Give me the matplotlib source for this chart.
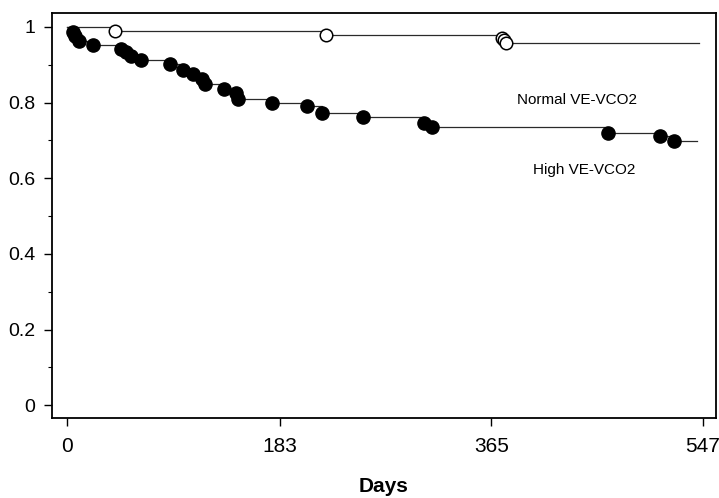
import matplotlib
matplotlib.use("Agg")
import matplotlib.pyplot as plt
from matplotlib.ticker import MultipleLocator

# ---- data ----
normal_days = [41, 223, 374, 376, 378]
normal_surv = [0.989, 0.980, 0.972, 0.965, 0.958]
normal_end = 544

high_days = [5.4, 6.9, 10.0, 22.6, 46.4, 50.7, 55.0, 63.6, 88.6, 99.8, 108.0,
             115.7, 118.7, 135.0, 145.3, 147.5, 176.7, 206.4, 219.3, 254.5,
             307.0, 314.3, 465.2, 509.9, 521.9]
high_surv = [0.988, 0.976, 0.963, 0.952, 0.942, 0.933, 0.923, 0.913, 0.903,
             0.886, 0.876, 0.862, 0.850, 0.836, 0.825, 0.809, 0.800, 0.790,
             0.773, 0.761, 0.747, 0.736, 0.720, 0.712, 0.699]
high_end = 542

x_ticks = [0, 183, 365, 547]
y_ticks = [0, 0.2, 0.4, 0.6, 0.8, 1.0]
y_tick_labels = ["0", "0.2", "0.4", "0.6", "0.8", "1"]
label_normal = "Normal VE-VCO2"
label_high = "High VE-VCO2"
x_label = "Days"

fig = plt.figure(figsize=(7.19, 4.98), dpi=100)
ax = fig.add_axes([52/719, 1-418/498, (716-52)/719, (418-13)/498])

line_col = "#2a2a2a"
# Normal curve
nx = [0] + normal_days + [normal_end]
ny = [1.0] + normal_surv + [normal_surv[-1]]
ax.step(nx, ny, where="post", color=line_col, lw=0.9)
ax.plot(normal_days, normal_surv, "o", mfc="white", mec="black", mew=1.1, ms=9)

# High curve
hx = [0] + high_days + [high_end]
hy = [1.0] + high_surv + [high_surv[-1]]
ax.step(hx, hy, where="post", color=line_col, lw=0.9)
ax.plot(high_days, high_surv, "o", color="black", ms=9.5)

ax.text(387, 0.807, label_normal, fontsize=11, family="Liberation Sans", va="center")
ax.text(401, 0.622, label_high, fontsize=11, family="Liberation Sans", va="center")

ax.set_xlim(-12.9, 558.2)
ax.set_ylim(-0.034, 1.037)
ax.set_xticks(x_ticks)
ax.set_xticklabels([str(t) for t in x_ticks], fontsize=15, family="Liberation Sans")
ax.set_yticks(y_ticks)
ax.set_yticklabels(y_tick_labels, fontsize=14, family="Liberation Sans")
ax.yaxis.set_minor_locator(MultipleLocator(0.1))
ax.tick_params(axis="x", direction="out", length=6, width=1, pad=8)
ax.tick_params(axis="y", which="major", direction="out", length=6, width=1, pad=6)
ax.tick_params(axis="y", which="minor", direction="out", length=3, width=0.8)
ax.set_xlabel(x_label, fontsize=15, fontweight="bold", family="Liberation Sans",
              labelpad=15)
for s in ax.spines.values():
    s.set_linewidth(1.3)

fig.savefig("out.png", dpi=100)
